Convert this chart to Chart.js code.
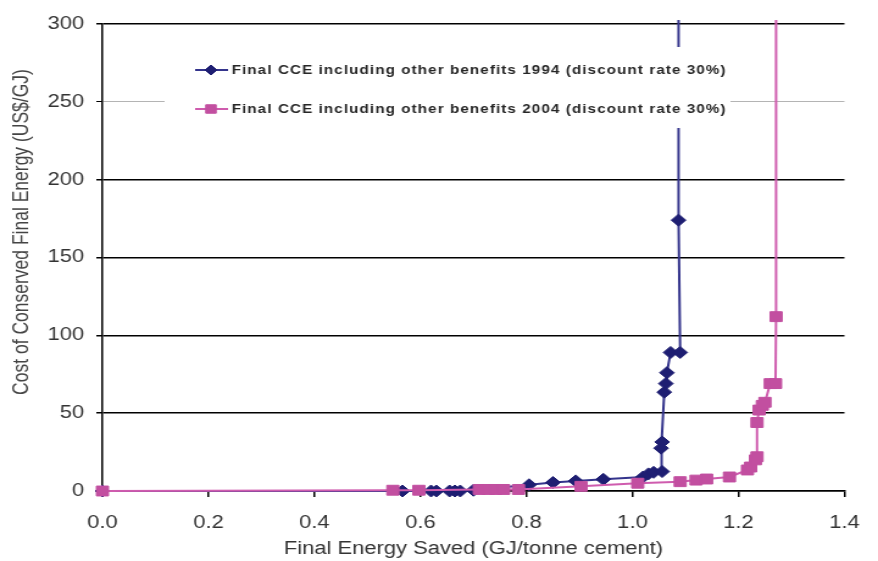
<!DOCTYPE html>
<html>
<head>
<meta charset="utf-8">
<title>Final CCE curve</title>
<script src="https://cdn.jsdelivr.net/npm/chart.js@4/dist/chart.umd.min.js"></script>
<style>
  html, body { margin: 0; padding: 0; background: #fff; }
  canvas { display: block; }
</style>
</head>
<body>
<!-- drawn 720 wide, shown 878 wide (wide Excel-style rendering) -->
<canvas id="canvas" width="720" height="561" style="width:878px;height:561px"></canvas>
<script>
const ctx = document.getElementById('canvas');

// 1994 curve: cumulative energy saved vs cost of conserved energy
const saved1994 = [0, 0.566, 0.62, 0.63, 0.655, 0.665, 0.675, 0.70, 0.805, 0.85, 0.893, 0.945,
  1.02, 1.03, 1.04, 1.056, 1.054, 1.056, 1.06, 1.063, 1.065, 1.072, 1.09, 1.087, 1.087];
const cce1994 = [0, 0, 0, 0, 0, 0, 0, 0.5, 4, 5.5, 6.5, 7.5,
  9, 11, 12, 12.5, 27.5, 31.5, 63.5, 69, 76, 89, 89, 174, 400];

// 2004 curve
const saved2004 = [0, 0.548, 0.597, 0.711, 0.728, 0.742, 0.757, 0.785, 0.903, 1.01, 1.09, 1.12,
  1.14, 1.183, 1.217, 1.223, 1.232, 1.235, 1.235, 1.239, 1.245, 1.25, 1.26, 1.27, 1.271, 1.271];
const cce2004 = [0, 0.5, 0.5, 1, 1, 1, 1, 1, 3, 5, 6, 7,
  7.7, 9, 13.5, 15.4, 20, 22, 44, 52, 55, 57, 69, 69, 112, 400];

const legendLabels = [
  'Final CCE including other benefits 1994 (discount rate 30%)',
  'Final CCE including other benefits 2004 (discount rate 30%)'
];

const xTickLabels = ['0.0', '0.2', '0.4', '0.6', '0.8', '1.0', '1.2', '1.4'];
const yTitle = 'Cost of Conserved Final Energy (US$/GJ)';

const toPoints = (xs, ys) => xs.map((x, i) => ({ x: x, y: ys[i] }));

const FONT = '"Liberation Sans", Arial, sans-serif';

// white legend panel sitting inside the plot, over the lines
const legendBox = {
  id: 'legendBox',
  afterDatasetsDraw(chart) {
    const c = chart.ctx;
    c.save();
    c.fillStyle = '#fff';
    c.fillRect(135, 47, 464, 81);
    chart.data.datasets.forEach((ds, i) => {
      const y = i === 0 ? 70 : 109;
      c.strokeStyle = ds.borderColor;
      c.lineWidth = 2;
      c.beginPath();
      c.moveTo(160, y);
      c.lineTo(187, y);
      c.stroke();
      c.fillStyle = ds.pointBackgroundColor;
      c.strokeStyle = ds.pointBorderColor;
      c.lineWidth = 1;
      Chart.helpers.drawPoint(c, { pointStyle: ds.pointStyle, radius: ds.pointRadius - 1, borderWidth: 1 }, 173, y);

      c.font = 'bold 12.5px ' + FONT;
      c.fillStyle = '#262626';
      c.textBaseline = 'middle';
      c.letterSpacing = '0px';
      const w = c.measureText(legendLabels[i]).width;
      c.letterSpacing = ((405 - w) / (legendLabels[i].length - 1)) + 'px';
      c.fillText(legendLabels[i], 190, y + 1);
      c.letterSpacing = '0px';
    });
    c.restore();
  }
};

// y axis title, sitting a little above the plot's middle
const yAxisTitle = {
  id: 'yAxisTitle',
  afterDraw(chart) {
    const c = chart.ctx;
    c.save();
    c.translate(18, 232);
    c.rotate(-Math.PI / 2);
    c.font = '17.5px ' + FONT;
    c.fillStyle = '#444';
    c.textAlign = 'center';
    c.textBaseline = 'middle';
    c.fillText(yTitle, 0, 0);
    c.restore();
  }
};

const chart = new Chart(ctx, {
  type: 'line',
  data: {
    datasets: [
      {
        label: legendLabels[0],
        data: toPoints(saved1994, cce1994),
        borderColor: '#34348c',
        borderWidth: 2,
        pointStyle: 'rectRot',
        pointRadius: 6,
        pointBackgroundColor: '#1e1e72',
        pointBorderColor: '#1e1e72',
        pointBorderWidth: 1,
        tension: 0,
        order: 1,
        clip: { left: 10, right: 0, top: 4, bottom: 10 }
      },
      {
        label: legendLabels[1],
        data: toPoints(saved2004, cce2004),
        borderColor: '#cf5cae',
        borderWidth: 2,
        pointStyle: 'rect',
        pointRadius: 7,
        pointBackgroundColor: '#c24fa0',
        pointBorderColor: '#c24fa0',
        pointBorderWidth: 1,
        tension: 0,
        order: 0,
        clip: { left: 10, right: 0, top: 4, bottom: 10 }
      }
    ]
  },
  options: {
    responsive: false,
    animation: false,
    devicePixelRatio: 1,
    layout: { padding: { left: 0, right: 16, top: 24, bottom: 0 } },
    plugins: {
      legend: { display: false },
      tooltip: { enabled: false }
    },
    scales: {
      x: {
        type: 'linear',
        min: 0,
        max: 1.4,
        ticks: {
          stepSize: 0.2,
          padding: 15,
          color: '#333',
          font: { family: FONT, size: 18 },
          callback: (v, i) => xTickLabels[i]
        },
        grid: {
          drawOnChartArea: false,
          color: '#000',
          tickLength: 6,
          lineWidth: 1.5
        },
        border: { color: '#000', width: 1.5 },
        title: {
          display: true,
          text: 'Final Energy Saved (GJ/tonne cement)',
          color: '#333',
          font: { family: FONT, size: 18 },
          padding: { top: 0, bottom: 1 }
        },
        afterFit: (scale) => { scale.height = 70; }
      },
      y: {
        min: 0,
        max: 300,
        ticks: {
          stepSize: 50,
          padding: 10,
          color: '#333',
          font: { family: FONT, size: 18 }
        },
        grid: {
          color: (c) => c.tick && c.tick.value === 250 ? '#b4b4b4' : '#000',
          lineWidth: (c) => c.tick && c.tick.value === 250 ? 1 : 1.5,
          tickColor: '#000',
          tickLength: 5
        },
        border: { color: '#000', width: 1.5 },
        afterFit: (scale) => { scale.width = 84; }
      }
    }
  },
  plugins: [legendBox, yAxisTitle]
});
</script>
</body>
</html>
